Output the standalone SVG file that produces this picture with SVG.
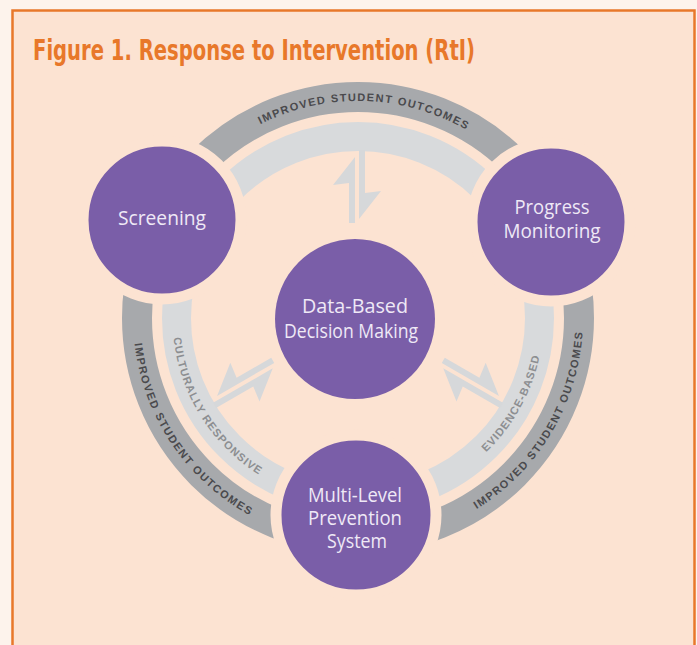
<svg xmlns="http://www.w3.org/2000/svg" width="697" height="645" viewBox="0 0 697 645">
  <style>
    .title { font-family: "Liberation Sans Narrow", "DejaVu Sans Condensed", "Liberation Sans", sans-serif; font-weight: bold; font-size: 29px; fill: #e8782a; }
    .node { fill: #7a5ea8; }
    .halo { stroke: #fce3d2; stroke-width: 11; }
    .label { font-family: "Open Sans", "Noto Sans", "Liberation Sans", sans-serif; font-size: 20.5px; fill: #efe9f6; text-anchor: middle; }
    .dark { fill: none; stroke: #a7a9ac; stroke-width: 30; }
    .light { fill: none; stroke: #d8dadc; stroke-width: 29; }
    .arc-dark { font-family: "Liberation Sans", "DejaVu Sans", sans-serif; font-weight: bold; font-size: 11px; fill: #4a4a4d; letter-spacing: 1.4px; }
    .arc-light { font-family: "Liberation Sans", "DejaVu Sans", sans-serif; font-weight: bold; font-size: 11px; fill: #8c8e91; letter-spacing: 1px; }
    .arrow { fill: #d6d8da; }
  </style>
  <defs>
    <path id="pTop" d="M173.4,204.0 A217,217 0 0 1 549.1,215.1"/>
    <path id="pLeft" d="M155.8,219.4 A225,225 0 0 0 373.7,542.5"/>
    <path id="pRight" d="M354.9,543.0 A225,225 0 0 0 554.4,208.2"/>
    <path id="pLightLeft" d="M194.2,230.9 A185.5,185.5 0 0 0 364.5,503.4"/>
    <path id="pLightRight" d="M361.2,503.5 A185.5,185.5 0 0 0 517.0,222.5"/>
    <g id="arrowPair">
      <polygon points="355,157 333,185 349,183 349,223 355,223"/>
      <polygon points="359,150 365,150 365,193 381,191 359,219"/>
    </g>
  </defs>

  <rect x="0" y="0" width="697" height="645" fill="#fdf3ec"/>
  <rect x="12.5" y="10.5" width="682" height="660" fill="#fce3d2" stroke="#e8782a" stroke-width="2.5"/>

  <text class="title" x="33" y="60" textLength="442" lengthAdjust="spacingAndGlyphs">Figure 1. Response to Intervention (RtI)</text>

  <g id="ring">
    <circle class="dark" cx="358" cy="318" r="221"/>
    <circle class="light" cx="358" cy="318" r="181.5"/>
    <text class="arc-dark"><textPath href="#pTop" startOffset="50%" text-anchor="middle">IMPROVED STUDENT OUTCOMES</textPath></text>
    <text class="arc-dark"><textPath href="#pLeft" startOffset="50%" text-anchor="middle">IMPROVED STUDENT OUTCOMES</textPath></text>
    <text class="arc-dark"><textPath href="#pRight" startOffset="50%" text-anchor="middle">IMPROVED STUDENT OUTCOMES</textPath></text>
    <text class="arc-light"><textPath href="#pLightLeft" startOffset="50%" text-anchor="middle">CULTURALLY RESPONSIVE</textPath></text>
    <text class="arc-light"><textPath href="#pLightRight" startOffset="50%" text-anchor="middle">EVIDENCE-BASED</textPath></text>
  </g>

  <g id="connectors" class="arrow">
    <use href="#arrowPair"/>
    <use href="#arrowPair" transform="rotate(120 358 318)"/>
    <use href="#arrowPair" transform="translate(716 0) scale(-1 1) rotate(120 358 318)"/>
  </g>

  <g id="screening">
    <circle class="node halo" cx="162" cy="220" r="79"/>
    <text class="label" x="162" y="225" textLength="88" lengthAdjust="spacingAndGlyphs">Screening</text>
  </g>
  <g id="progress-monitoring">
    <circle class="node halo" cx="551" cy="222" r="79"/>
    <text class="label" x="552" y="214" textLength="75" lengthAdjust="spacingAndGlyphs">Progress</text>
    <text class="label" x="552" y="238" textLength="97" lengthAdjust="spacingAndGlyphs">Monitoring</text>
  </g>
  <g id="data-based-decision-making">
    <circle class="node" cx="355" cy="319" r="80"/>
    <text class="label" x="355" y="313" textLength="106" lengthAdjust="spacingAndGlyphs">Data-Based</text>
    <text class="label" x="351" y="338" textLength="134" lengthAdjust="spacingAndGlyphs">Decision Making</text>
  </g>
  <g id="multi-level-prevention-system">
    <circle class="node halo" cx="356" cy="515" r="80"/>
    <text class="label" x="355" y="502" textLength="94" lengthAdjust="spacingAndGlyphs">Multi-Level</text>
    <text class="label" x="355" y="525" textLength="94" lengthAdjust="spacingAndGlyphs">Prevention</text>
    <text class="label" x="357" y="548" textLength="60" lengthAdjust="spacingAndGlyphs">System</text>
  </g>
</svg>
